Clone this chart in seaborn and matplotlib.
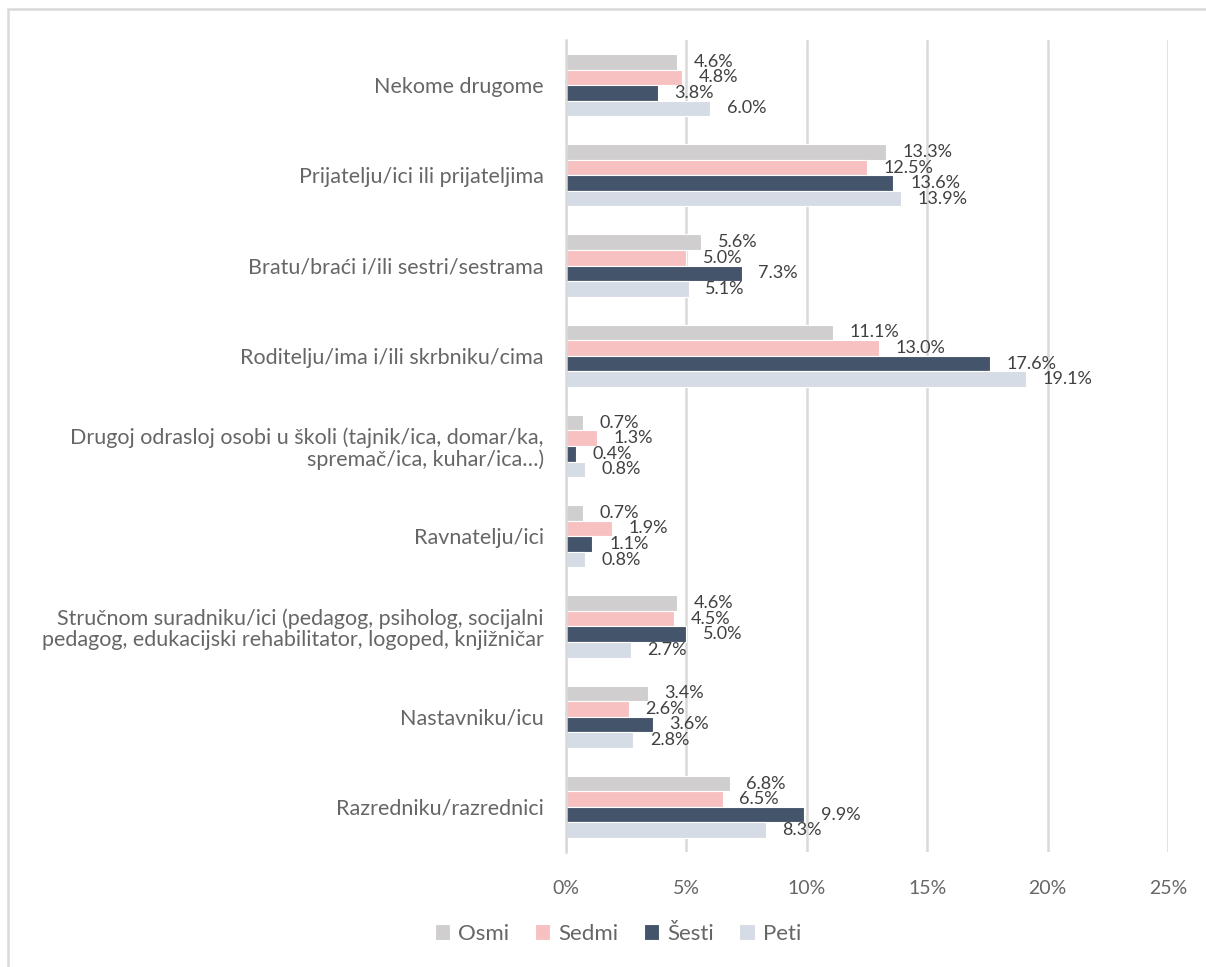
import pandas as pd
import seaborn as sns
import matplotlib
matplotlib.use('Agg')
from matplotlib import pyplot as plt
from matplotlib.patches import Rectangle
from matplotlib.ticker import FuncFormatter

# kategorije (od vrha prema dnu)
categories = [
    'Nekome drugome',
    'Prijatelju/ici ili prijateljima',
    'Bratu/braći i/ili sestri/sestrama',
    'Roditelju/ima i/ili skrbniku/cima',
    'Drugoj odrasloj osobi u školi (tajnik/ica, domar/ka,\nspremač/ica, kuhar/ica…)',
    'Ravnatelju/ici',
    'Stručnom suradniku/ici (pedagog, psiholog, socijalni\npedagog, edukacijski rehabilitator, logoped, knjižničar',
    'Nastavniku/icu',
    'Razredniku/razrednici',
]
razredi = ['Osmi', 'Sedmi', 'Šesti', 'Peti']

osmi = [4.6, 13.3, 5.6, 11.1, 0.7, 0.7, 4.6, 3.4, 6.8]
sedmi = [4.8, 12.5, 5.0, 13.0, 1.3, 1.9, 4.5, 2.6, 6.5]
sesti = [3.8, 13.6, 7.3, 17.6, 0.4, 1.1, 5.0, 3.6, 9.9]
peti = [6.0, 13.9, 5.1, 19.1, 0.8, 0.8, 2.7, 2.8, 8.3]

boje = ['#D0CECE', '#F8C1C1', '#44546A', '#D6DCE5']

# %%
df = pd.DataFrame({'kategorija': categories, 'Osmi': osmi, 'Sedmi': sedmi,
                   'Šesti': sesti, 'Peti': peti})
df = df.melt(id_vars='kategorija', var_name='razred', value_name='postotak')

sns.set_theme(style='white')
plt.rcParams['font.family'] = ['Lato', 'DejaVu Sans']

fig = plt.figure(figsize=(12.06, 9.67), dpi=100)
ax = fig.add_axes([566 / 1206, 1 - 852 / 967, (1168 - 566) / 1206, (852 - 40) / 967])

sns.barplot(data=df, y='kategorija', x='postotak', hue='razred', hue_order=razredi,
            order=categories, palette=boje, saturation=1, orient='h', width=0.69,
            edgecolor='white', linewidth=0.8, ax=ax)

for c in ax.containers:
    ax.bar_label(c, labels=['{:.1f}%'.format(v) for v in c.datavalues],
                 padding=12, fontsize=13, color='#404040')

ax.set_xlim(0, 25)
ax.set_xticks([0, 5, 10, 15, 20, 25])
ax.xaxis.set_major_formatter(FuncFormatter(lambda x, p: '{:.0f}%'.format(x)))
ax.grid(axis='x', color='#D9D9D9', linewidth=1.8)
ax.set_axisbelow(True)
for s in ['top', 'right', 'bottom']:
    ax.spines[s].set_visible(False)
ax.spines['left'].set_color('#D9D9D9')
ax.spines['left'].set_linewidth(1.8)
ax.tick_params(axis='y', length=0, pad=16, labelsize=15.5, labelcolor='#666666')
ax.tick_params(axis='x', length=0, pad=20, labelsize=14, labelcolor='#666666')
for t in ax.get_yticklabels():
    t.set_linespacing(1.1)
ax.set_xlabel('')
ax.set_ylabel('')

h, l = ax.get_legend_handles_labels()
ax.legend_.remove()
fig.legend(h, l, loc='center', bbox_to_anchor=(618 / 1206, 1 - 934 / 967), ncol=4,
           frameon=False, fontsize=16, handlelength=0.7, handleheight=0.7,
           handletextpad=0.35, columnspacing=1.15, labelcolor='#666666')

# okvir grafikona
fig.patches.append(Rectangle((8 / 1206, -0.05), 1.1, 1 - 9 / 967 + 0.05,
                             transform=fig.transFigure, fill=False,
                             edgecolor='#D9D9D9', linewidth=1.8))

fig.savefig('out.png', dpi=100)
